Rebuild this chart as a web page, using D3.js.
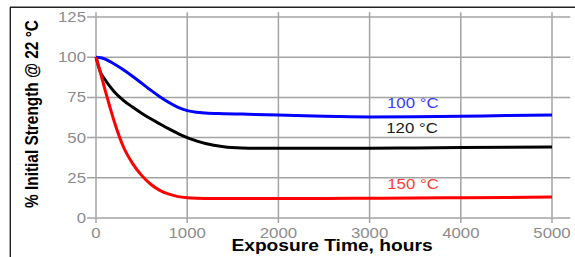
<!DOCTYPE html>
<html lang="en">
  <head>
    <meta charset="UTF-8" />
    <title>% Initial Strength vs Exposure Time</title>
    <script src="https://d3js.org/d3.v7.min.js"></script>
    <style>
      body { margin: 0; background: #fff; }
      text { font-family: "Liberation Sans", Arial, sans-serif; }
      .grid { stroke: #a3a3a3; stroke-width: 1.5; }
      .tick-label { fill: #8c8c8c; font-size: 14px; }
      .title { font-weight: bold; fill: #000; }
      .curve { fill: none; stroke-width: 3; stroke-linejoin: round; }
    </style>
  </head>
  <body>
    <svg id="canvas" width="575" height="257"></svg>
    <script>
      // data
      const hours = [0, 50, 100, 150, 200, 300, 400, 500, 600, 700, 800, 900, 1000,
        1100, 1200, 1400, 1600, 2000, 2500, 3000, 3500, 4000, 4500, 5000];
      const temp100 = [100, 99.7, 98.8, 97.4, 95.8, 92.2, 88.2, 83.9, 79.5, 75.4, 71.8, 68.8, 66.8,
        65.8, 65.3, 64.9, 64.6, 64, 63.2, 62.8, 62.9, 63.2, 63.7, 64];
      const temp120 = [100, 90.5, 86, 82, 78.5, 73.2, 69, 65.2, 61.7, 58.5, 55.4, 52.5, 50,
        48, 46.3, 44.3, 43.6, 43.3, 43.3, 43.4, 43.6, 43.8, 44, 44.2];
      const temp150 = [100, 90, 79.5, 69.5, 60, 44.3, 34, 26.5, 21, 17.2, 14.8, 13.3, 12.6,
        12.3, 12.2, 12.2, 12.2, 12.2, 12.2, 12.3, 12.4, 12.6, 12.8, 13];
      const seriesNames = ["100 °C", "120 °C", "150 °C"];
      const seriesValues = [temp100, temp120, temp150];
      const labelHours = [3473, 3465, 3476];
      const labelValues = [68.2, 52.7, 17.8];
      const xTicks = [0, 1000, 2000, 3000, 4000, 5000];
      const yTicks = [0, 25, 50, 75, 100, 125];

      const lineColors = ["#0000ff", "#000000", "#ff0000"];
      const labelColors = ["#3a3aff", "#1a1a1a", "#ff3a3a"];
      const sx = 1.2; // the picture is stretched sideways

      const svg = d3.select("#canvas");
      const x = d3.scaleLinear().domain([0, 5000]).range([96, 552]);
      const y = d3.scaleLinear().domain([0, 125]).range([218, 17]);

      // frame
      svg.append("line").attr("x1", 10).attr("x2", 575).attr("y1", 7.3).attr("y2", 7.3)
        .attr("stroke", "#222").attr("stroke-width", 1.4);
      svg.append("line").attr("x1", 10.3).attr("x2", 10.3).attr("y1", 7).attr("y2", 257)
        .attr("stroke", "#222").attr("stroke-width", 1.4);

      // grid
      svg.selectAll(".hgrid").data(yTicks).enter().append("line")
        .attr("class", "grid")
        .attr("x1", 87).attr("x2", x(5200))
        .attr("y1", (d) => y(d)).attr("y2", (d) => y(d));
      svg.selectAll(".vgrid").data(xTicks).enter().append("line")
        .attr("class", "grid")
        .attr("x1", (d) => x(d)).attr("x2", (d) => x(d))
        .attr("y1", y(128)).attr("y2", 223);

      function stretched(px, py, txt, anchor) {
        return svg.append("text")
          .attr("transform", `translate(${px},${py}) scale(${sx},1)`)
          .attr("text-anchor", anchor)
          .text(txt);
      }

      yTicks.forEach((t) => {
        stretched(86, y(t) + 5, t, "end").attr("class", "tick-label");
      });
      xTicks.forEach((t) => {
        stretched(x(t), 237.5, t, "middle").attr("class", "tick-label");
      });

      // curves
      const line = d3.line()
        .x((d) => x(d[0]))
        .y((d) => y(d[1]))
        .curve(d3.curveMonotoneX);
      seriesValues.forEach((vals, i) => {
        svg.append("path")
          .attr("class", "curve")
          .attr("stroke", lineColors[i])
          .attr("d", line(hours.map((h, j) => [h, vals[j]])));
        stretched(x(labelHours[i]), y(labelValues[i]), seriesNames[i], "middle")
          .attr("fill", labelColors[i])
          .attr("font-size", "14px");
      });

      // axis titles
      stretched(332, 250.5, "Exposure Time, hours", "middle")
        .attr("class", "title").attr("font-size", "16px");
      svg.append("text")
        .attr("class", "title")
        .attr("font-size", "15.4px")
        .attr("text-anchor", "middle")
        .attr("transform", `translate(38,114) scale(${sx},1) rotate(-90)`)
        .text("% Initial Strength @ 22 °C");
    </script>
  </body>
</html>
